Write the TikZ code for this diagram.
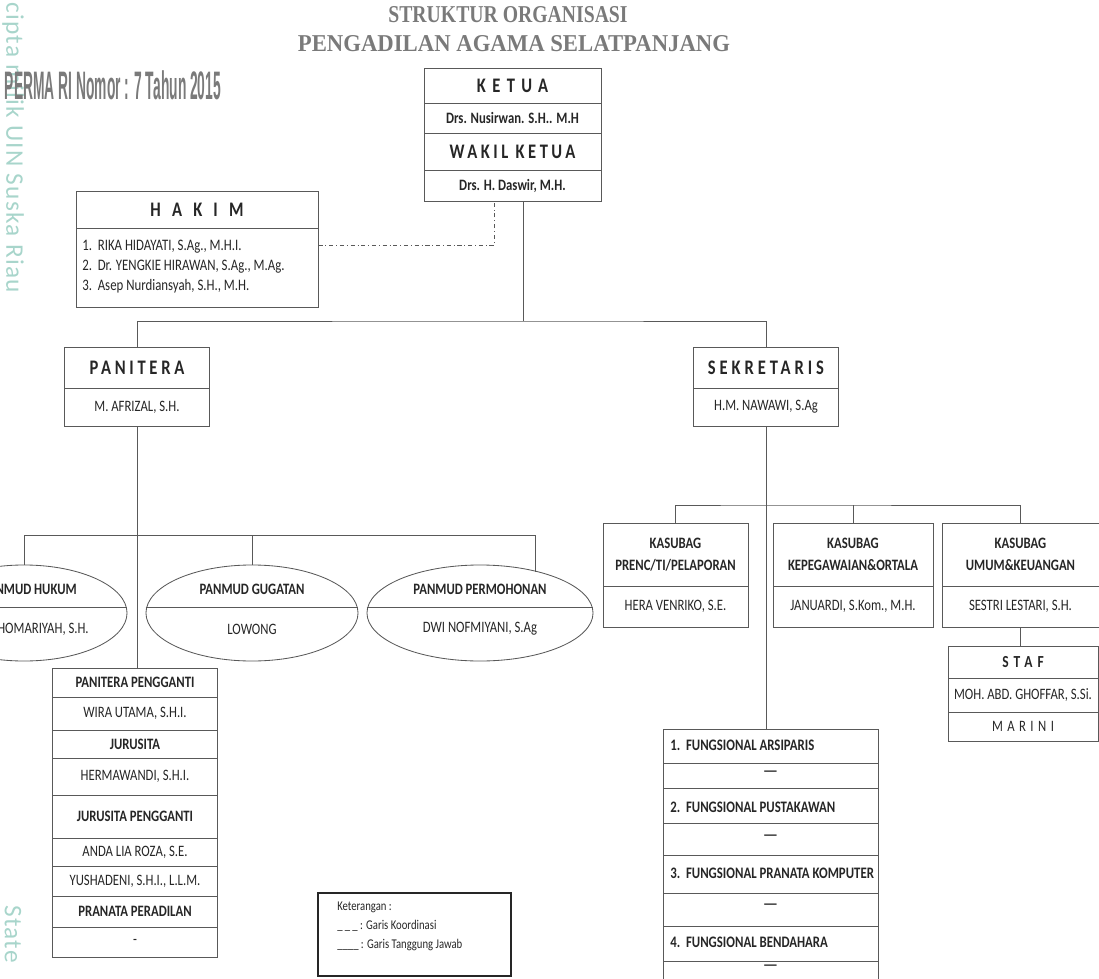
\documentclass[tikz,border=0pt]{standalone}
\usepackage{fontspec}
\setmainfont{Carlito}[FakeStretch=0.8]
\newfontfamily\tandafont{Carlito}
\newfontfamily\judulfont{Liberation Serif}
\newfontfamily\permafont{Liberation Sans}
\usetikzlibrary{shapes.geometric}
\definecolor{garis}{HTML}{595959}
\definecolor{teks}{HTML}{262626}
\definecolor{judul}{HTML}{7A7A7A}
\definecolor{tanda}{HTML}{A8D5CB}
\newcommand{\renggang}[2]{{\addfontfeature{LetterSpace=#1}#2}}

\begin{document}
\begin{tikzpicture}[x=0.025cm,y=-0.025cm]
\tikzset{kotak/.style={draw=garis, line width=0.6pt, inner sep=0pt, text=teks, align=center, font=\fontsize{11.3}{15.6}\selectfont},
tebal/.style={kotak, font=\fontsize{11.3}{15.6}\selectfont\bfseries},
besar/.style={kotak, font=\fontsize{14.7}{16}\selectfont\bfseries},
fungsi/.style={kotak, minimum width=5.375cm},
elips/.style={draw=garis, line width=0.6pt, ellipse, inner sep=0pt, minimum height=2.4cm},
tulisan/.style={inner sep=0pt, text=teks, font=\fontsize{11.3}{13}\selectfont},
garisan/.style={draw=garis, line width=0.6pt}}
\useasboundingbox (0,0) rectangle (1099,979);
\clip (0,0) rectangle (1099,979);
\node[rotate=-90, anchor=west, inner sep=0pt, text=tanda, font=\tandafont\fontsize{18}{18}\selectfont] (tanda1) at (13,2) {\renggang{5}{cipta milik UIN Suska Riau}};
\node[rotate=-90, anchor=west, inner sep=0pt, text=tanda, font=\tandafont\fontsize{18}{18}\selectfont] (tanda2) at (13,905) {\renggang{5}{State}};
\node[inner sep=0pt, text=judul] (judul1) at (508,15) {\resizebox{5.98cm}{0.4cm}{\judulfont\bfseries STRUKTUR ORGANISASI}};
\node[inner sep=0pt, text=judul] (judul2) at (514,44) {\resizebox{10.8cm}{0.4cm}{\judulfont\bfseries PENGADILAN AGAMA SELATPANJANG}};
\node[inner sep=0pt, text=judul] (perma) at (113,85) {\resizebox{5.4cm}{0.72cm}{\permafont\bfseries PERMA RI Nomor : 7 Tahun 2015}};
\node[besar, minimum width=4.425cm, minimum height=0.875cm] (ketua) at (512.5,85.5) {\renggang{31}{KETUA}};
\node[tebal, minimum width=4.425cm, minimum height=0.75cm] (ketuaNama) at (512.5,118) {Drs. Nusirwan. S.H.. M.H};
\node[besar, minimum width=4.425cm, minimum height=0.925cm] (wakil) at (512.5,151.5) {\renggang{17}{WAKIL KETUA}};
\node[tebal, minimum width=4.425cm, minimum height=0.775cm] (wakilNama) at (512.5,185.5) {Drs. H. Daswir, M.H.};
\node[besar, minimum width=6.05cm, minimum height=0.925cm] (hakim) at (197,209.5) {\renggang{54}{HAKIM}};
\node[kotak, minimum width=6.05cm, minimum height=1.975cm] (hakimIsi) at (197,267.5) {};
\node[tulisan, anchor=north west, align=left, font=\fontsize{11.4}{14.2}\selectfont] (hakimDaftar) at (82,240) {1.\ \ RIKA HIDAYATI, S.Ag., M.H.I.\\2.\ \ Dr. YENGKIE HIRAWAN, S.Ag., M.Ag.\\3.\ \ Asep Nurdiansyah, S.H., M.H.};
\coordinate (koordinasi) at (494,245);
\draw[garisan, dash dot] (hakimIsi.east |- koordinasi) -- (koordinasi) -- (koordinasi |- wakilNama.south);
\node[besar, minimum width=3.625cm, minimum height=1.025cm] (panitera) at (137,367.5) {\renggang{18}{PANITERA}};
\node[kotak, minimum width=3.625cm, minimum height=0.95cm] (paniteraNama) at (137,407) {M. AFRIZAL, S.H.};
\node[besar, minimum width=3.625cm, minimum height=1.025cm] (sekretaris) at (766,367.5) {\renggang{19}{SEKRETARIS}};
\node[kotak, minimum width=3.625cm, minimum height=0.95cm] (sekretarisNama) at (766,407) {H.M. NAWAWI, S.Ag};
\coordinate (cabang) at (523,321);
\draw[garisan] (wakilNama.south -| cabang) -- (cabang);
\draw[garisan] (panitera.north) |- (cabang) -| (sekretaris.north);
\node[elips, minimum width=5.15cm] (hukum) at (24,613) {};
\node[elips, minimum width=5.3cm] (gugatan) at (252,613) {};
\node[elips, minimum width=5.65cm] (permohonan) at (480,613) {};
\draw[garisan] (hukum.west |- 0,607) -- (hukum.east |- 0,607);
\draw[garisan] (gugatan.west |- 0,607) -- (gugatan.east |- 0,607);
\draw[garisan] (permohonan.west |- 0,607) -- (permohonan.east |- 0,607);
\node[tulisan, anchor=east, font=\fontsize{11.3}{13}\selectfont\bfseries] (hukumJudul) at (77,589) {PANMUD HUKUM};
\node[tulisan, anchor=east] (hukumNama) at (89,629) {HOMARIYAH, S.H.};
\node[tulisan, font=\fontsize{11.3}{13}\selectfont\bfseries] (gugatanJudul) at (252,589) {PANMUD GUGATAN};
\node[tulisan] (gugatanNama) at (252,629) {LOWONG};
\node[tulisan, font=\fontsize{11.3}{13}\selectfont\bfseries] (permohonanJudul) at (480,589) {PANMUD PERMOHONAN};
\node[tulisan] (permohonanNama) at (480,629) {DWI NOFMIYANI, S.Ag};
\coordinate (panmud) at (137,535);
\coordinate (permohonanAtas) at (535,572);
\draw[garisan] (hukum.north) -- (hukum.north |- panmud) -- (panmud -| permohonanAtas) -- (permohonanAtas);
\draw[garisan] (gugatan.north) -- (gugatan.north |- panmud);
\node[tebal, minimum width=4.125cm, minimum height=0.725cm] (pengganti) at (135,682.5) {PANITERA PENGGANTI};
\node[kotak, minimum width=4.125cm, minimum height=0.825cm] (penggantiNama) at (135,713.5) {WIRA UTAMA, S.H.I.};
\node[tebal, minimum width=4.125cm, minimum height=0.7cm] (jurusita) at (135,744) {JURUSITA};
\node[kotak, minimum width=4.125cm, minimum height=0.925cm] (jurusitaNama) at (135,776.5) {HERMAWANDI, S.H.I.};
\node[tebal, minimum width=4.125cm, minimum height=1.075cm] (jsPengganti) at (135,816.5) {JURUSITA PENGGANTI};
\node[kotak, minimum width=4.125cm, minimum height=0.7cm] (jsPenggantiNama1) at (135,852) {ANDA LIA ROZA, S.E.};
\node[kotak, minimum width=4.125cm, minimum height=0.75cm] (jsPenggantiNama2) at (135,881) {YUSHADENI, S.H.I., L.L.M.};
\node[tebal, minimum width=4.125cm, minimum height=0.775cm] (pranata) at (135,911.5) {PRANATA PERADILAN};
\node[kotak, minimum width=4.125cm, minimum height=0.75cm] (pranataNama) at (135,942) {-};
\draw[garisan] (paniteraNama.south) -- (paniteraNama.south |- pengganti.north);
\node[tebal, minimum width=3.625cm, minimum height=1.575cm] (kasubag1) at (675.5,554.5) {KASUBAG\\PRENC/TI/PELAPORAN};
\node[kotak, minimum width=3.625cm, minimum height=1.025cm] (kasubag1Nama) at (675.5,606.5) {HERA VENRIKO, S.E.};
\node[tebal, minimum width=4cm, minimum height=1.575cm] (kasubag2) at (853,554.5) {KASUBAG\\KEPEGAWAIAN\&ORTALA};
\node[kotak, minimum width=4cm, minimum height=1.025cm] (kasubag2Nama) at (853,606.5) {JANUARDI, S.Kom., M.H.};
\node[tebal, minimum width=3.925cm, minimum height=1.575cm] (kasubag3) at (1020.5,554.5) {KASUBAG\\UMUM\&KEUANGAN};
\node[kotak, minimum width=3.925cm, minimum height=1.025cm] (kasubag3Nama) at (1020.5,606.5) {SESTRI LESTARI, S.H.};
\coordinate (sekBar) at (765,505);
\draw[garisan] (kasubag1.north) |- (sekBar) -| (kasubag3.north);
\draw[garisan] (kasubag2.north) -- (kasubag2.north |- sekBar);
\node[tebal, minimum width=3.75cm, minimum height=0.8cm, font=\fontsize{12}{14}\selectfont\bfseries] (staf) at (1023,662) {\renggang{30}{STAF}};
\node[kotak, minimum width=3.75cm, minimum height=0.85cm] (stafNama1) at (1023,695) {MOH. ABD. GHOFFAR, S.Si.};
\node[kotak, minimum width=3.75cm, minimum height=0.725cm] (stafNama2) at (1023,726.5) {\renggang{28}{MARINI}};
\draw[garisan] (kasubag3Nama.south) -- (kasubag3Nama.south |- staf.north);
\node[fungsi, minimum height=0.85cm] (fungsi1) at (770.5,746) {};
\node[fungsi, minimum height=0.625cm] (fungsi1Isi) at (770.5,775.5) {};
\node[fungsi, minimum height=0.875cm] (fungsi2) at (770.5,805.5) {};
\node[fungsi, minimum height=0.8cm] (fungsi2Isi) at (770.5,839) {};
\node[fungsi, minimum height=0.95cm] (fungsi3) at (770.5,874) {};
\node[fungsi, minimum height=0.825cm] (fungsi3Isi) at (770.5,909.5) {};
\node[fungsi, minimum height=0.875cm] (fungsi4) at (770.5,943.5) {};
\node[fungsi, minimum height=0.85cm] (fungsi4Isi) at (770.5,978) {};
\node[tulisan, anchor=west, font=\fontsize{11.4}{13}\selectfont\bfseries] (fungsi1Teks) at (670,745) {1.\ \ FUNGSIONAL ARSIPARIS};
\node[tulisan, anchor=west, font=\fontsize{11.4}{13}\selectfont\bfseries] (fungsi2Teks) at (670,807) {2.\ \ FUNGSIONAL PUSTAKAWAN};
\node[tulisan, anchor=west, font=\fontsize{11.4}{13}\selectfont\bfseries] (fungsi3Teks) at (670,873) {3.\ \ FUNGSIONAL PRANATA KOMPUTER};
\node[tulisan, anchor=west, font=\fontsize{11.4}{13}\selectfont\bfseries] (fungsi4Teks) at (670,942) {4.\ \ FUNGSIONAL BENDAHARA};
\node[tulisan, font=\fontsize{15}{15}\selectfont] (garis1) at (770.5,774) {—};
\node[tulisan, font=\fontsize{15}{15}\selectfont] (garis2) at (770.5,838) {—};
\node[tulisan, font=\fontsize{15}{15}\selectfont] (garis3) at (770.5,907) {—};
\node[tulisan, font=\fontsize{15}{15}\selectfont] (garis4) at (770.5,968) {—};
\draw[garisan] (sekretarisNama.south) -- (sekretarisNama.south |- fungsi1.north);
\node[draw=teks, line width=1.5pt, minimum width=4.825cm, minimum height=2.075cm, inner sep=0pt] (keterangan) at (414.5,934.5) {};
\node[tulisan, anchor=west, font=\fontsize{9.5}{11}\selectfont] (ket1) at (337,907) {Keterangan :};
\node[tulisan, anchor=west, font=\fontsize{9.5}{11}\selectfont] (ket2) at (337,926) {\_\,\_\,\_ : Garis Koordinasi};
\node[tulisan, anchor=west, font=\fontsize{9.5}{11}\selectfont] (ket3) at (337,945) {\_\_\_\_ : Garis Tanggung Jawab};
\end{tikzpicture}
\end{document}
